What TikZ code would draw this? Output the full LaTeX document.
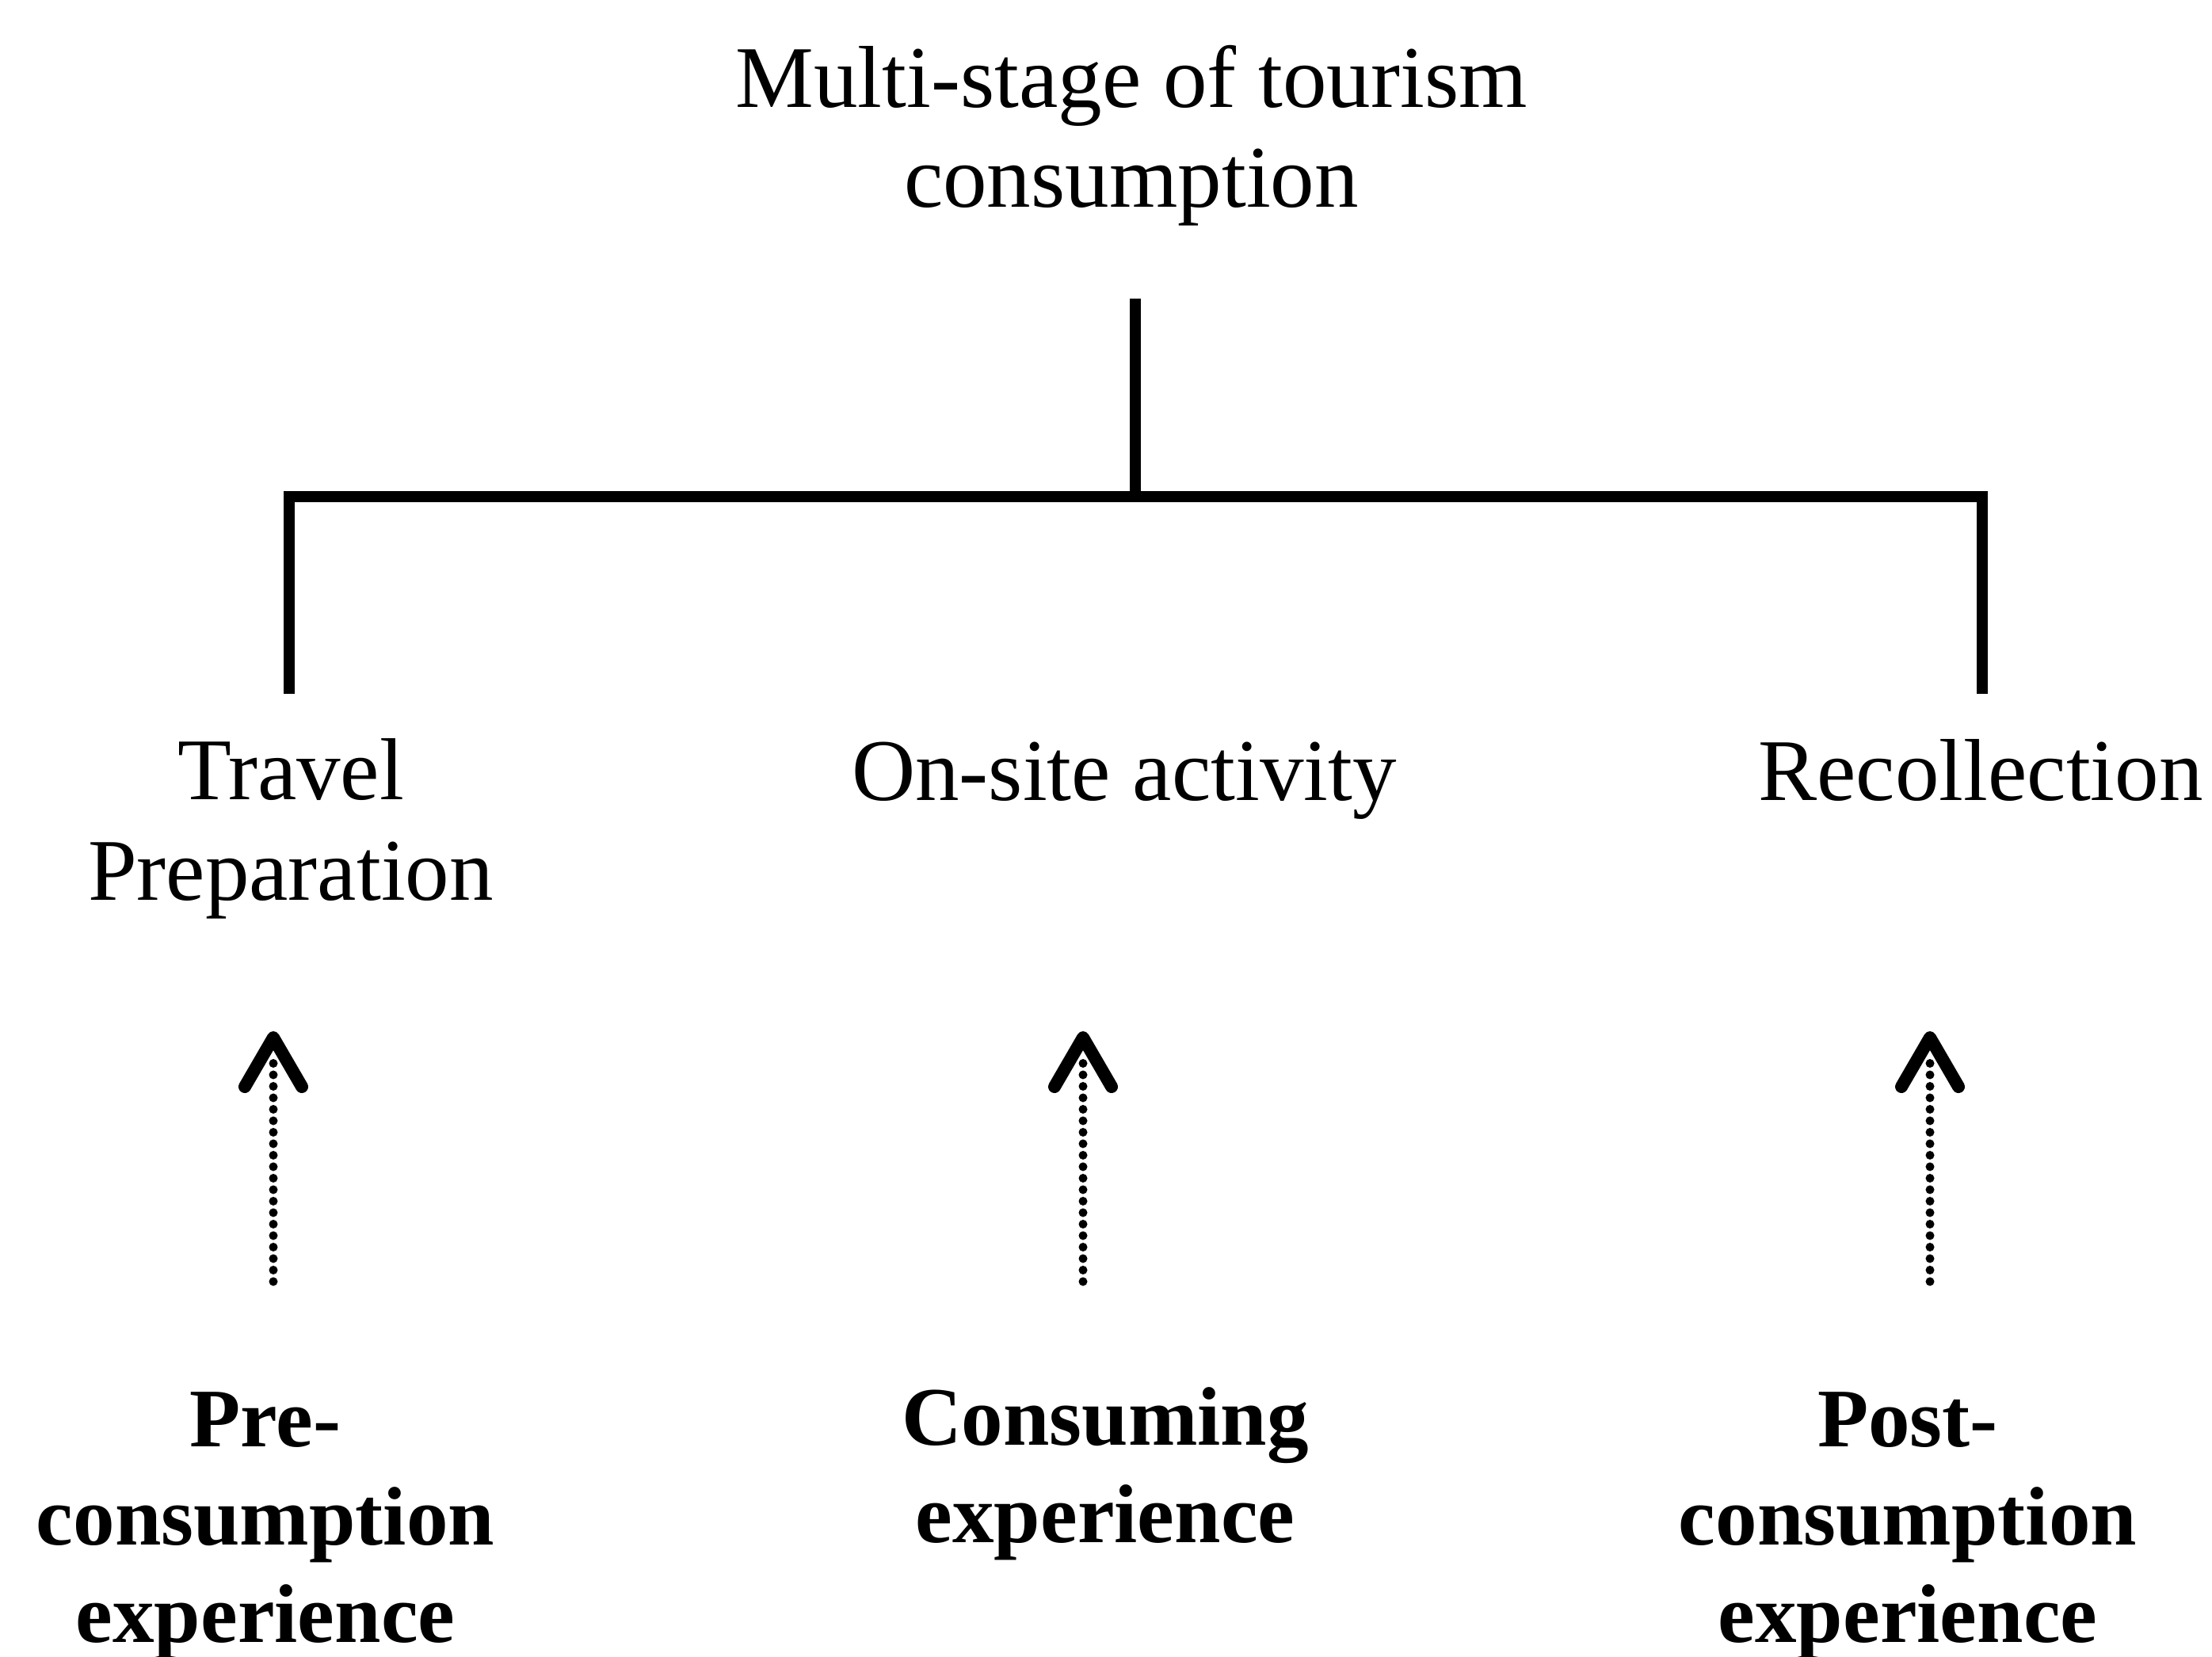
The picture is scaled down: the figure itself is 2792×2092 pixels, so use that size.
\documentclass[tikz,border=0pt]{standalone}
\usepackage{fontspec}
\setmainfont{Liberation Serif}
\usetikzlibrary{calc}

\tikzset{
  tree/.style={line width=1.4mm},
  dotshaft/.style={line width=1.1mm, line cap=round, dash pattern=on 0pt off 1.45mm},
  barb/.style={line width=1.6mm, line cap=round, line join=round},
  stage/.style={inner sep=0pt, anchor=base, align=center,
    font=\fontsize{31.6}{36}\selectfont},
  experience/.style={inner sep=0pt, anchor=base, align=center,
    font=\fontsize{29.9}{35}\selectfont\bfseries},
}

\begin{document}
\begin{tikzpicture}[x=0.1mm, y=-0.1mm]
  \useasboundingbox (0,0) rectangle (2792,2092);

  % heading and the three stages (base = baseline of the last line)
  \node[stage] (title) at (1428,262) {Multi-stage of tourism\\consumption};
  \node[stage] (travel) at (367,1136) {Travel\\Preparation};
  \node[stage] (onsite) at (1419,1011) {On-site activity};
  \node[stage] (recoll) at (2500,1011) {Recollection};

  % experiences below each stage
  \node[experience] (pre) at (335,2073) {Pre-\\consumption\\experience};
  \node[experience] (cons) at (1395,1947) {Consuming\\experience};
  \node[experience] (post) at (2408,2073) {Post-\\consumption\\experience};

  % tree connecting the heading with the stages
  \coordinate (top) at (1433,377);
  \coordinate (jc) at (1433,627);
  \coordinate (jl) at (365,627);
  \coordinate (jr) at (2502,627);
  \coordinate (el) at (365,876);
  \coordinate (er) at (2502,876);
  \draw[tree] (top) -- (jc);
  \draw[tree] (el) -- (jl) -- (jr) -- (er);

  % dotted arrows from experiences up to stages
  \foreach \n/\x in {a/345, b/1367, c/2436} {
    \coordinate (\n tip) at (\x,1310);
    \coordinate (\n top) at (\x,1340);
    \coordinate (\n bot) at (\x,1618);
    \draw[dotshaft] (\n bot) -- (\n top);
    \draw[barb] ($(\n tip)+(-36,62)$) -- (\n tip) -- ($(\n tip)+(36,62)$);
  }
\end{tikzpicture}
\end{document}
